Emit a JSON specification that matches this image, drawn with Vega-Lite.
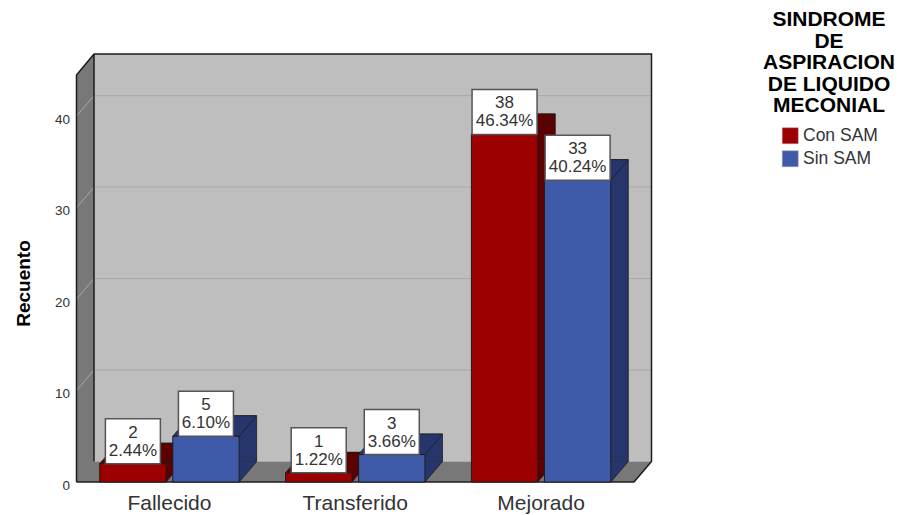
{"$schema":"https://vega.github.io/schema/vega-lite/v6.json","width":557.5,"height":407,"autosize":{"type":"none"},"padding":{"left":76.5,"top":75,"right":268,"bottom":33},"background":"white","config":{"font":"Liberation Sans","view":{"stroke":null}},"title":{"text":["SINDROME","DE","ASPIRACION","DE LIQUIDO","MECONIAL"],"anchor":"start","frame":"group","align":"center","baseline":"top","dx":752.5,"dy":69,"fontSize":21,"fontWeight":"bold","lineHeight":21.5,"color":"#000000","font":"Liberation Sans"},"data":{"values":[{"estado":"Fallecido","sam":"Con SAM","recuento":2,"porcentaje":"2.44%"},{"estado":"Fallecido","sam":"Sin SAM","recuento":5,"porcentaje":"6.10%"},{"estado":"Transferido","sam":"Con SAM","recuento":1,"porcentaje":"1.22%"},{"estado":"Transferido","sam":"Sin SAM","recuento":3,"porcentaje":"3.66%"},{"estado":"Mejorado","sam":"Con SAM","recuento":38,"porcentaje":"46.34%"},{"estado":"Mejorado","sam":"Sin SAM","recuento":33,"porcentaje":"40.24%"}]},"encoding":{"y":{"field":"recuento","type":"quantitative","scale":{"domain":[0,44.5],"nice":false,"zero":true},"title":"Recuento","axis":{"domain":false,"ticks":false,"grid":false,"values":[0,10,20,30,40],"labelFontSize":13.5,"labelColor":"#333333","labelPadding":7,"labelOffset":3,"labelFont":"Liberation Sans","titleFontSize":19,"titleFontWeight":"bold","titleColor":"#000000","titlePadding":21,"titleY":208,"titleFont":"Liberation Sans"}},"x":{"field":"estado","type":"nominal","sort":["Fallecido","Transferido","Mejorado"],"scale":{"paddingInner":0.25,"paddingOuter":0.125},"title":null,"axis":{"domain":false,"ticks":false,"labelAngle":0,"labelFontSize":21,"labelColor":"#333333","labelPadding":10,"labelFont":"Liberation Sans"}},"xOffset":{"field":"sam","type":"nominal","sort":["Con SAM","Sin SAM"],"scale":{"paddingInner":0.092}}},"layer":[{"data":{"values":[{"v":0}]},"mark":{"type":"point","filled":true,"opacity":1,"size":4,"shape":"M-261.25,-20.5 L296.25,-20.5 L296.25,-428 L-261.25,-428 Z","fill":"#bebebe","stroke":null},"encoding":{"x":null,"xOffset":null,"y":{"field":"v","type":"quantitative"}}},{"data":{"values":[{"v":0}]},"mark":{"type":"point","filled":true,"opacity":1,"size":4,"shape":"M-278.75,0 L278.75,0 L296.25,-20.5 L-261.25,-20.5 Z M-278.75,0 L-261.25,-20.5 L-261.25,-428 L-278.75,-407 Z","fill":"#787878","stroke":null},"encoding":{"x":null,"xOffset":null,"y":{"field":"v","type":"quantitative"}}},{"data":{"values":[{"v":10},{"v":20},{"v":30},{"v":40}]},"mark":{"type":"point","filled":false,"opacity":1,"size":4,"shape":"M-278.75,0 L-261.25,-20.5 L296.25,-20.5","stroke":"#a8a8a8","strokeWidth":1},"encoding":{"x":null,"xOffset":null,"y":{"field":"v","type":"quantitative"}}},{"data":{"values":[{"v":0}]},"mark":{"type":"point","filled":false,"opacity":1,"size":4,"shape":"M-278.75,0 L-278.75,-407 L-261.25,-428 L296.25,-428 L296.25,-20.5 L278.75,0 L-278.75,0 M-261.25,-428 L-261.25,-20.5","stroke":"#1c1c1c","strokeWidth":1.5},"encoding":{"x":null,"xOffset":null,"y":{"field":"v","type":"quantitative"}}},{"transform":[{"filter":"datum.sam === 'Con SAM'"}],"mark":{"type":"bar","width":66.4,"xOffset":-19,"yOffset":-20.5,"y2Offset":-20.5,"fill":"#5c0000","stroke":"#1c1c1c","strokeWidth":0.8},"encoding":{"xOffset":null}},{"transform":[{"filter":"datum.sam === 'Sin SAM'"}],"mark":{"type":"bar","width":66.4,"xOffset":54,"yOffset":-20.5,"y2Offset":-20.5,"fill":"#26366c","stroke":"#1c1c1c","strokeWidth":0.8},"encoding":{"xOffset":null}},{"mark":{"type":"point","filled":true,"opacity":1,"size":4,"shape":"M33.2,0 L50.7,-20.5 L33.2,-20.5 Z","stroke":null},"encoding":{"y":{"datum":0,"type":"quantitative"},"fill":{"condition":{"test":"datum.sam === 'Con SAM'","value":"#5c0000"},"value":"#26366c"}}},{"mark":{"type":"point","filled":false,"opacity":1,"size":4,"shape":"M33.2,0 L50.7,-20.5","stroke":"#1c1c1c","strokeWidth":0.8},"encoding":{"y":{"datum":0,"type":"quantitative"}}},{"mark":{"type":"point","filled":true,"opacity":1,"size":4,"shape":"M-33.2,0 L33.2,0 L50.7,-20.5 L-15.7,-20.5 Z","stroke":"#1c1c1c","strokeWidth":0.8},"encoding":{"fill":{"condition":{"test":"datum.sam === 'Con SAM'","value":"#5c0000"},"value":"#26366c"}}},{"mark":{"type":"bar","stroke":"#1c1c1c","strokeWidth":1},"encoding":{"fill":{"field":"sam","type":"nominal","scale":{"domain":["Con SAM","Sin SAM"],"range":["#9c0000","#3e5aa8"]},"legend":{"title":null,"orient":"none","legendX":705,"legendY":52,"symbolType":"square","symbolSize":260,"symbolStrokeColor":"#bbbbbb","symbolStrokeWidth":0.5,"symbolOpacity":1,"labelFontSize":17.5,"labelColor":"#333333","labelFont":"Liberation Sans","rowPadding":4,"labelOffset":4}}}},{"transform":[{"filter":"datum.recuento < 10"}],"mark":{"type":"point","filled":true,"opacity":1,"size":4,"shape":"M-27.5,0 L27.5,0 L27.5,-45 L-27.5,-45 Z","fill":"#ffffff","stroke":"#555555","strokeWidth":1.5}},{"transform":[{"filter":"datum.recuento >= 10"}],"mark":{"type":"point","filled":true,"opacity":1,"size":4,"shape":"M-32.5,0 L32.5,0 L32.5,-45 L-32.5,-45 Z","fill":"#ffffff","stroke":"#555555","strokeWidth":1.5}},{"mark":{"type":"text","yOffset":-31,"fontSize":17,"color":"#333333","font":"Liberation Sans"},"encoding":{"text":{"field":"recuento","type":"quantitative"}}},{"mark":{"type":"text","yOffset":-13,"fontSize":17,"color":"#333333","font":"Liberation Sans"},"encoding":{"text":{"field":"porcentaje","type":"nominal"}}}]}
